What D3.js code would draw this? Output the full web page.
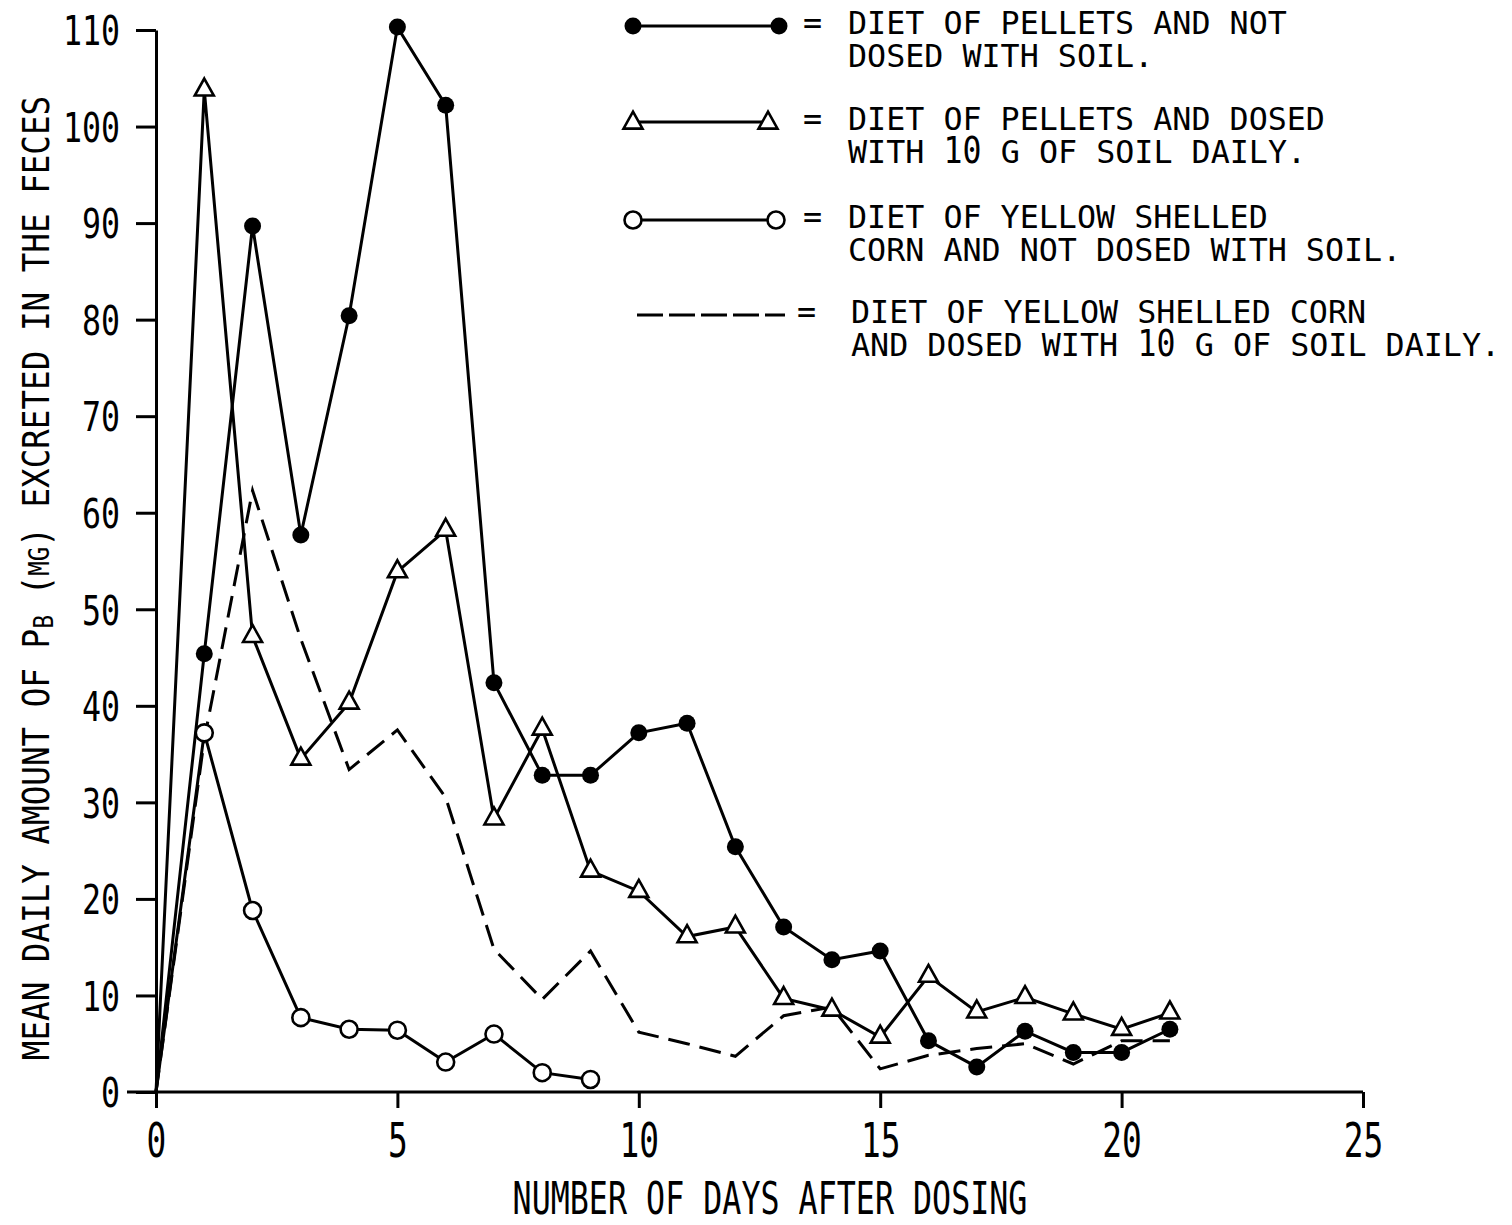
<!DOCTYPE html>
<html>
<head>
<meta charset="utf-8">
<script src="https://cdn.jsdelivr.net/npm/d3@7/dist/d3.min.js"></script>
<style>
  html, body { margin: 0; padding: 0; background: #fff; }
  svg { display: block; }
  text { font-family: "DejaVu Sans Mono", "Liberation Mono", monospace; fill: #000; }
</style>
</head>
<body>
<svg id="chart" width="1512" height="1225"></svg>
<script>
// ---------------- data ----------------
const days = [0,1,2,3,4,5,6,7,8,9,10,11,12,13,14,15,16,17,18,19,20,21];
const pelletsNoSoil = [0,45.4,89.7,57.7,80.4,110.3,102.2,42.4,32.8,32.8,37.2,38.2,25.4,17.1,13.7,14.6,5.3,2.6,6.3,4.1,4.1,6.5];
const pelletsSoil   = [0,103.8,47.2,34.5,40.3,53.9,58.2,28.3,37.6,22.9,20.8,16.1,17.1,9.7,8.5,5.7,12.0,8.3,9.8,8.1,6.5,8.2];
const cornDays      = [0,1,2,3,4,5,6,7,8,9];
const cornNoSoil    = [0,37.2,18.8,7.7,6.5,6.4,3.1,6.0,2.0,1.3];
const cornSoil      = [0,36.5,62.3,46.9,33.4,37.5,30.5,14.8,9.6,14.6,6.2,5.0,3.7,7.9,8.8,2.4,3.8,4.5,5.0,2.9,5.3,5.3];
const xTicks = [0,5,10,15,20,25];
const yTicks = [0,10,20,30,40,50,60,70,80,90,100,110];
const xTitle = "NUMBER OF DAYS AFTER DOSING";
const legendRows = [
  {kind:"filled",   l1:"DIET OF PELLETS AND NOT",     l2:"DOSED WITH SOIL."},
  {kind:"triangle", l1:"DIET OF PELLETS AND DOSED",   l2:"WITH 10 G OF SOIL DAILY."},
  {kind:"open",     l1:"DIET OF YELLOW SHELLED",      l2:"CORN AND NOT DOSED WITH SOIL."},
  {kind:"dashed",   l1:"DIET OF YELLOW SHELLED CORN", l2:"AND DOSED WITH 10 G OF SOIL DAILY."}
];

// ---------------- layout ----------------
const svg = d3.select("#chart");
const x = d3.scaleLinear().domain([0,25]).range([156,1363]);
const y = d3.scaleLinear().domain([0,110]).range([1092,30]);

function ctext(parent, px, py, str, size, sx, anchor) {
  const g = parent.append("g").attr("transform", `translate(${px},${py}) scale(${sx},1)`);
  return g.append("text").attr("text-anchor", anchor || "start").attr("font-size", size).text(str);
}

// ---------------- axes ----------------
const yAxis = svg.append("g").attr("transform", `translate(${x(0)},0)`)
  .call(d3.axisLeft(y).tickValues(yTicks).tickSize(20).tickSizeOuter(0).tickFormat(d3.format("d")));
yAxis.select(".domain").attr("stroke", "#000").attr("stroke-width", 3);
yAxis.selectAll(".tick line").attr("stroke", "#000").attr("stroke-width", 3);
yAxis.selectAll(".tick text")
  .attr("font-family", "DejaVu Sans Mono")
  .attr("font-size", 41)
  .attr("x", -36 / 0.77)
  .attr("dy", "0.36em")
  .attr("transform", "scale(0.77,1)");

const xAxis = svg.append("g").attr("transform", `translate(0,${y(0)})`)
  .call(d3.axisBottom(x).tickValues(xTicks).tickSize(16).tickSizeOuter(0).tickFormat(d3.format("d")));
xAxis.select(".domain").remove();
xAxis.append("line").attr("x1", x(0) - 29).attr("x2", x(25)).attr("y1", 0).attr("y2", 0)
  .attr("stroke", "#000").attr("stroke-width", 3);
xAxis.selectAll(".tick line").attr("stroke", "#000").attr("stroke-width", 3);
xAxis.selectAll(".tick text").remove();
xAxis.selectAll(".tick").each(function(d) {
  ctext(d3.select(this), 0, 65, String(d), 48, 0.685, "middle");
});

// axis titles
ctext(svg, 770, 1214, xTitle, 44, 0.72, "middle");

const ytG = svg.append("g").attr("transform", "translate(49,578) rotate(-90)");
const ytS = ytG.append("g");
const yt = ytS.append("text").attr("text-anchor", "middle").attr("font-size", 38);
yt.append("tspan").text("MEAN DAILY AMOUNT OF P");
yt.append("tspan").attr("font-size", 27).attr("dy", 4).text("B");
yt.append("tspan").attr("dy", -4).text(" (");
yt.append("tspan").attr("font-size", 28).text("MG");
yt.append("tspan").text(") EXCRETED IN THE FECES");
const ytLen = yt.node().getComputedTextLength();
ytS.attr("transform", `scale(${965 / ytLen},1)`);

// ---------------- series ----------------
const plot = svg.append("g");
const lineGen = d3.line().x(d => x(d[0])).y(d => y(d[1]));
const zip = (a, b) => a.map((v, i) => [v, b[i]]);

const triPath = (cx, cy) => {
  const w = 19, h = 17;
  return `M${cx},${cy - h*2/3}L${cx + w/2},${cy + h/3}L${cx - w/2},${cy + h/3}Z`;
};

plot.append("path").datum(zip(days, cornSoil)).attr("d", lineGen)
  .attr("fill", "none").attr("stroke", "#000").attr("stroke-width", 3)
  .attr("stroke-dasharray", "22,10");
plot.append("path").datum(zip(cornDays, cornNoSoil)).attr("d", lineGen)
  .attr("fill", "none").attr("stroke", "#000").attr("stroke-width", 3);
plot.append("path").datum(zip(days, pelletsSoil)).attr("d", lineGen)
  .attr("fill", "none").attr("stroke", "#000").attr("stroke-width", 3);
plot.append("path").datum(zip(days, pelletsNoSoil)).attr("d", lineGen)
  .attr("fill", "none").attr("stroke", "#000").attr("stroke-width", 3);

plot.selectAll(".oc").data(zip(cornDays, cornNoSoil).slice(1)).join("circle")
  .attr("cx", d => x(d[0])).attr("cy", d => y(d[1])).attr("r", 8.5)
  .attr("fill", "#fff").attr("stroke", "#000").attr("stroke-width", 2.6);
plot.selectAll(".tri").data(zip(days, pelletsSoil).slice(1)).join("path")
  .attr("d", d => triPath(x(d[0]), y(d[1])))
  .attr("fill", "#fff").attr("stroke", "#000").attr("stroke-width", 2.6);
plot.selectAll(".fc").data(zip(days, pelletsNoSoil).slice(1)).join("circle")
  .attr("cx", d => x(d[0])).attr("cy", d => y(d[1])).attr("r", 8.5).attr("fill", "#000");

// ---------------- legend ----------------
const leg = svg.append("g");
const rowY = [26, 122, 220, 315];
const pitch = 19.1;
legendRows.forEach((r, i) => {
  const my = rowY[i];
  const g = leg.append("g");
  if (r.kind === "dashed") {
    g.append("line").attr("x1", 637).attr("x2", 785).attr("y1", my).attr("y2", my)
      .attr("stroke", "#000").attr("stroke-width", 3).attr("stroke-dasharray", "26,6");
  } else {
    const x1 = 633, x2 = r.kind === "filled" ? 779 : (r.kind === "triangle" ? 768 : 776);
    g.append("line").attr("x1", x1).attr("x2", x2).attr("y1", my).attr("y2", my)
      .attr("stroke", "#000").attr("stroke-width", 3);
    [x1, x2].forEach(cx => {
      if (r.kind === "filled") g.append("circle").attr("cx", cx).attr("cy", my).attr("r", 8.5).attr("fill", "#000");
      else if (r.kind === "open") g.append("circle").attr("cx", cx).attr("cy", my).attr("r", 8.5)
        .attr("fill", "#fff").attr("stroke", "#000").attr("stroke-width", 2.6);
      else g.append("path").attr("d", triPath(cx, my + 1)).attr("fill", "#fff")
        .attr("stroke", "#000").attr("stroke-width", 2.6);
    });
  }
  const tx = r.kind === "dashed" ? 851 : 848;
  const b1 = my + 8, b2 = my + 41;
  g.append("text").attr("x", r.kind === "dashed" ? 797 : 803).attr("y", b1).attr("font-size", 31.7).text("=");
  g.append("text").attr("x", tx).attr("y", b1).attr("font-size", 31.7).text(r.l1);
  const idx = r.l2.indexOf("10 ");
  if (idx >= 0) {
    g.append("text").attr("x", tx).attr("y", b2).attr("font-size", 31.7).text(r.l2.slice(0, idx).trim());
    ctext(g, tx + idx * pitch, b2, "10", 38, 0.83, "start");
    g.append("text").attr("x", tx + (idx + 3) * pitch).attr("y", b2).attr("font-size", 31.7).text(r.l2.slice(idx + 3));
  } else {
    g.append("text").attr("x", tx).attr("y", b2).attr("font-size", 31.7).text(r.l2);
  }
});
</script>
</body>
</html>
